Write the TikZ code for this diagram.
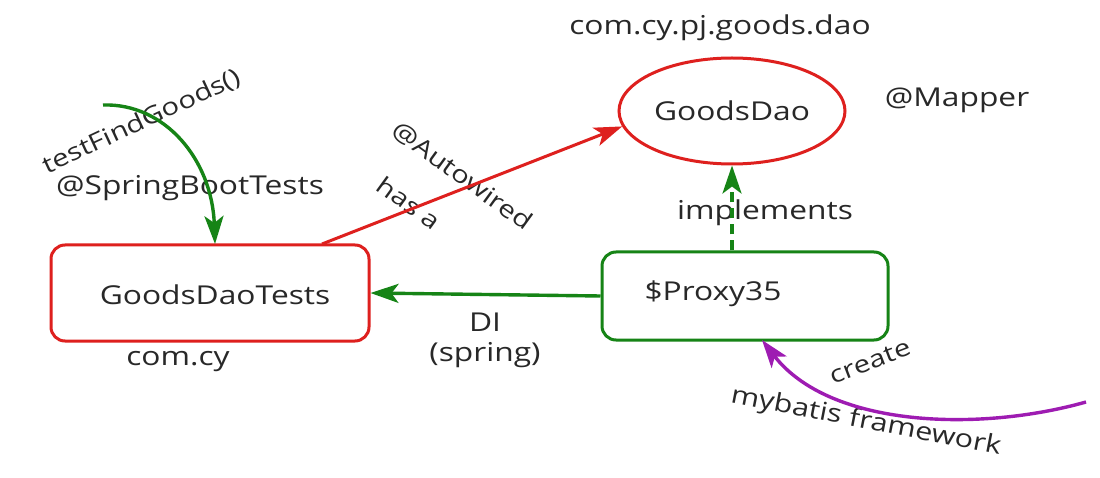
\documentclass[tikz,border=0pt]{standalone}
\usepackage{fontspec}
\setmainfont{Open Sans}[FakeStretch=1.22]
\usetikzlibrary{arrows.meta,shapes.geometric}
\definecolor{cred}{RGB}{222,32,30}
\definecolor{cgreen}{RGB}{22,132,22}
\definecolor{cpurple}{RGB}{158,28,178}
\definecolor{ctext}{RGB}{40,40,40}
\tikzset{
  x=1pt,y=-1pt,
  lbl/.style={font=\fontsize{26}{30}\selectfont, text=ctext, inner sep=0pt},
  rlbl/.style={font=\fontsize{24}{28}\selectfont, text=ctext, inner sep=0pt},
  redbox/.style={draw=cred, line width=3pt, rounded corners=14pt, minimum width=318pt, minimum height=96pt},
  greenbox/.style={draw=cgreen, line width=3pt, rounded corners=14pt, minimum width=286pt, minimum height=88pt},
  arr/.style={line width=3.4pt, -{Stealth[length=28pt,width=19pt,inset=7pt]}},
}
\begin{document}
\begin{tikzpicture}
\useasboundingbox[fill=white] (0,0) rectangle (1100,478);
% nodes
\node[redbox] (tests) at (210,293) {};
\node[lbl] (testsT) at (215,295) {GoodsDaoTests};
\node[greenbox] (proxy) at (745,296) {};
\node[lbl] (proxyT) at (713,294) {\$Proxy35};
\node[ellipse, draw=cred, line width=3pt, minimum width=226pt, minimum height=106pt] (dao) at (732,111) {};
\node[lbl] (daoT) at (732,111) {GoodsDao};
% plain labels
\node[lbl] (pkg) at (720,28) {com.cy.pj.goods.dao};
\node[lbl] (mapper) at (957,100) {@Mapper};
\node[lbl] (impl) at (765,213) {implements};
\node[lbl] (comcy) at (178,362) {com.cy};
\node[lbl, align=center] (di) at (485,340) {DI\\(spring)};
\node[lbl] (sbt) at (190,188) {@SpringBootTests};
\node[rlbl, rotate=25] (tfg) at (142,122) {testFindGoods()};
\node[rlbl, rotate=-36] (autow) at (462,176) {@Autowired};
\node[rlbl, rotate=-36] (hasa) at (409,203) {has a};
\node[rlbl, rotate=21] (create) at (870,362) {create};
\node[lbl, font=\fontsize{25}{29}\selectfont, rotate=-11] (mybatis) at (866,422) {mybatis framework};
% connectors
\coordinate (tstart) at (103,105);
\coordinate (mstart) at (1086,402);
\coordinate (tne) at (322,244);
\coordinate (ttop) at (215,244);
\coordinate (pbot) at (762,340);
\draw[arr, draw=cred, line width=3pt] (tne) -- (dao.188);
\draw[arr, draw=cgreen] (proxy.west) -- (tests.east);
\draw[arr, draw=cgreen, dash pattern=on 10pt off 6pt] (proxy.north -| dao.south) -- (dao.south);
\draw[arr, draw=cgreen] (tstart) .. controls (165,103) and (212,160) .. (ttop);
\draw[arr, draw=cpurple] (mstart) .. controls (980,432) and (830,428) .. (pbot);
\end{tikzpicture}
\end{document}
